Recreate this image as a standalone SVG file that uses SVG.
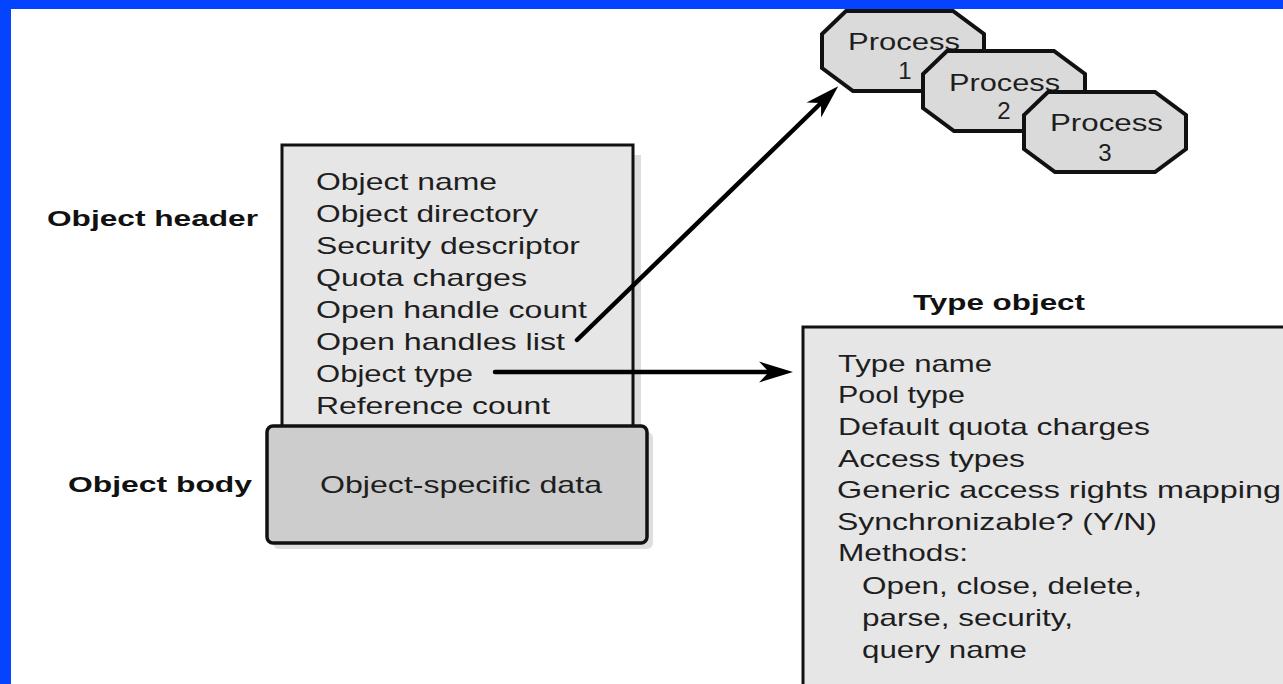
<svg xmlns="http://www.w3.org/2000/svg" width="1283" height="684" viewBox="0 0 1283 684">
  <style>
    .item { font-family: "Liberation Sans", Arial, sans-serif; font-size: 24px; fill: #1e1e1e; }
    .label { font-family: "Liberation Sans", Arial, sans-serif; font-size: 22px; font-weight: bold; fill: #111; }
    .box { fill: #e6e6e6; stroke: #111; stroke-width: 3; }
    .body { fill: #cdcdcd; stroke: #111; stroke-width: 3.5; }
    .shadow { fill: #dedede; }
    .proc { fill: #dadada; stroke: #111; stroke-width: 4; stroke-linejoin: miter; }
    .ptext { font-family: "Liberation Sans", Arial, sans-serif; font-size: 24px; fill: #1e1e1e; }
    .wire { fill: none; stroke: #000; stroke-width: 4.5; stroke-linecap: round; }
  </style>
  <defs>
    <polygon id="oct" points="24,0 131,0 162,23 162,57 131,80 31,80 0,57 0,23"/>
    <marker id="barb" markerUnits="userSpaceOnUse" viewBox="-36 -12 38 24" refX="-24" refY="0" markerWidth="38" markerHeight="24" orient="auto">
      <path d="M0,0 L-34,-10.5 L-24,0 L-34,10.5 Z" fill="#000"/>
    </marker>
  </defs>

  <rect x="0" y="0" width="1283" height="684" fill="#ffffff"/>

  <!-- left-hand section labels -->
  <g id="label-header">
    <text class="label" x="47" y="226" textLength="211" lengthAdjust="spacingAndGlyphs">Object header</text>
  </g>
  <g id="label-body">
    <text class="label" x="68" y="492" textLength="184" lengthAdjust="spacingAndGlyphs">Object body</text>
  </g>

  <!-- object header -->
  <g id="object-header">
    <rect class="shadow" x="634" y="155" width="7" height="272"/>
    <rect class="box" x="282" y="145" width="351" height="290"/>
    <text class="item" x="316" y="190" textLength="181" lengthAdjust="spacingAndGlyphs">Object name</text>
    <text class="item" x="316" y="222" textLength="222" lengthAdjust="spacingAndGlyphs">Object directory</text>
    <text class="item" x="316" y="254" textLength="264" lengthAdjust="spacingAndGlyphs">Security descriptor</text>
    <text class="item" x="316" y="286" textLength="211" lengthAdjust="spacingAndGlyphs">Quota charges</text>
    <text class="item" x="316" y="318" textLength="271" lengthAdjust="spacingAndGlyphs">Open handle count</text>
    <text class="item" x="316" y="350" textLength="249" lengthAdjust="spacingAndGlyphs">Open handles list</text>
    <text class="item" x="316" y="382" textLength="157" lengthAdjust="spacingAndGlyphs">Object type</text>
    <text class="item" x="316" y="414" textLength="234" lengthAdjust="spacingAndGlyphs">Reference count</text>
  </g>

  <!-- object body -->
  <g id="object-body">
    <rect class="shadow" x="273" y="432" width="380" height="117" rx="6"/>
    <rect class="body" x="267" y="426" width="380" height="117" rx="6"/>
    <text class="item" x="320" y="493" textLength="282" lengthAdjust="spacingAndGlyphs">Object-specific data</text>
  </g>

  <!-- type object -->
  <g id="type-object">
    <text class="label" x="913" y="310" textLength="172" lengthAdjust="spacingAndGlyphs">Type object</text>
    <rect class="box" x="803" y="327" width="520" height="400"/>
    <text class="item" x="838" y="372" textLength="154" lengthAdjust="spacingAndGlyphs">Type name</text>
    <text class="item" x="838" y="403" textLength="127" lengthAdjust="spacingAndGlyphs">Pool type</text>
    <text class="item" x="838" y="435" textLength="312" lengthAdjust="spacingAndGlyphs">Default quota charges</text>
    <text class="item" x="838" y="467" textLength="187" lengthAdjust="spacingAndGlyphs">Access types</text>
    <text class="item" x="837" y="498" textLength="444" lengthAdjust="spacingAndGlyphs">Generic access rights mapping</text>
    <text class="item" x="837" y="530" textLength="320" lengthAdjust="spacingAndGlyphs">Synchronizable? (Y/N)</text>
    <text class="item" x="838" y="561" textLength="130" lengthAdjust="spacingAndGlyphs">Methods:</text>
    <text class="item" x="862" y="594" textLength="280" lengthAdjust="spacingAndGlyphs">Open, close, delete,</text>
    <text class="item" x="862" y="626" textLength="211" lengthAdjust="spacingAndGlyphs">parse, security,</text>
    <text class="item" x="862" y="658" textLength="165" lengthAdjust="spacingAndGlyphs">query name</text>
  </g>

  <!-- process objects -->
  <g id="process-1">
    <use href="#oct" class="proc" x="822" y="11"/>
    <text class="ptext" x="848" y="50" textLength="112" lengthAdjust="spacingAndGlyphs">Process</text>
    <text class="ptext" x="905" y="79" text-anchor="middle">1</text>
  </g>
  <g id="process-2">
    <use href="#oct" class="proc" x="923" y="51"/>
    <text class="ptext" x="949" y="91" textLength="111" lengthAdjust="spacingAndGlyphs">Process</text>
    <text class="ptext" x="1004" y="119" text-anchor="middle">2</text>
  </g>
  <g id="process-3">
    <use href="#oct" class="proc" x="1024" y="92"/>
    <text class="ptext" x="1050" y="131" textLength="113" lengthAdjust="spacingAndGlyphs">Process</text>
    <text class="ptext" x="1105" y="161" text-anchor="middle">3</text>
  </g>

  <!-- connectors -->
  <g id="connectors">
    <path class="wire" d="M577,340 L821,103" marker-end="url(#barb)"/>
    <path class="wire" d="M495,372 L769,372" marker-end="url(#barb)"/>
  </g>

  <!-- blue frame -->
  <g id="frame" fill="#0444fe">
    <rect x="0" y="0" width="1283" height="9"/>
    <rect x="0" y="0" width="11" height="684"/>
  </g>
</svg>
